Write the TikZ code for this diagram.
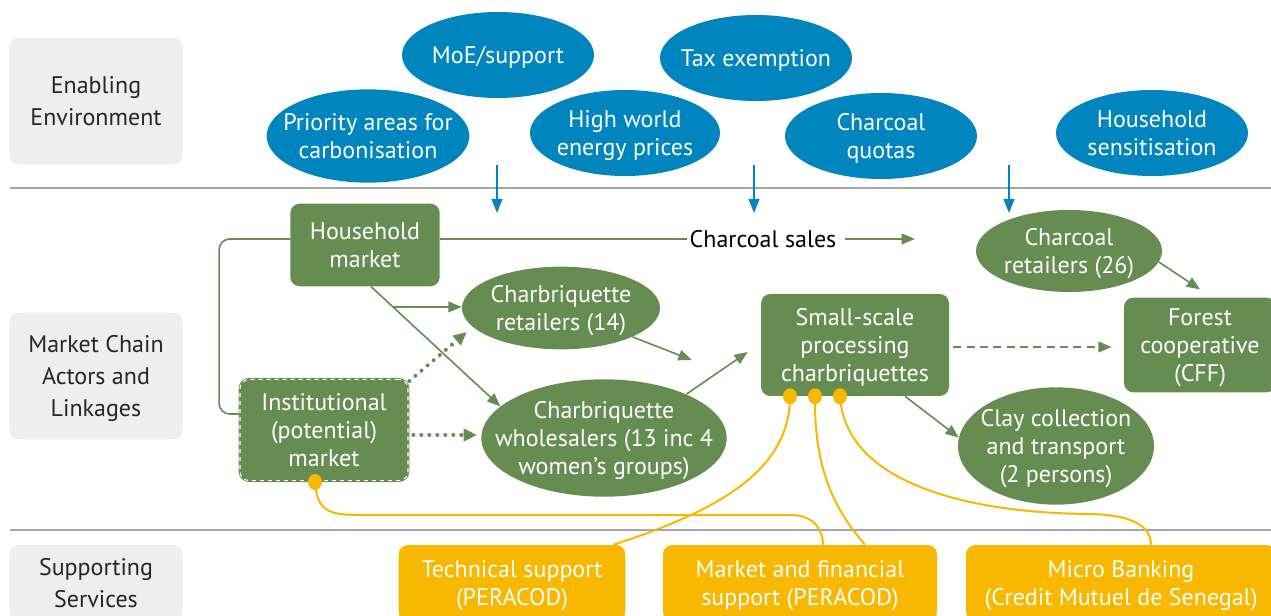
\documentclass[tikz,border=0pt]{standalone}
\usepackage{fontspec}
\setmainfont{PT Sans}
\usetikzlibrary{arrows.meta,positioning,calc,shapes.geometric}
\definecolor{envblue}{HTML}{0085BF}
\definecolor{chaingreen}{HTML}{678C52}
\definecolor{supyellow}{HTML}{F9B800}
\definecolor{panelgray}{HTML}{EEEEEE}
\definecolor{rulegray}{HTML}{A6A6A6}
\newcommand\lblfont{\fontsize{18}{21}\selectfont}

\begin{document}
\begin{tikzpicture}[x=0.75pt,y=-0.75pt,
  panel/.style={fill=panelgray,rounded corners=7pt,minimum width=130pt,minimum height=95pt,
    align=center,text=black!85,text depth=0pt,font=\fontsize{18}{24}\selectfont},
  envell/.style={ellipse,fill=envblue,inner sep=-30pt,minimum width=144pt,minimum height=64.5pt,
    align=center,text=white,text depth=0pt,font=\lblfont},
  actbox/.style={fill=chaingreen,rounded corners=7pt,inner sep=0pt,align=center,text=white,
    text depth=0pt,font=\lblfont},
  actell/.style={ellipse,fill=chaingreen,inner sep=-30pt,align=center,text=white,
    text depth=0pt,font=\lblfont},
  supbox/.style={fill=supyellow,rounded corners=7pt,inner sep=0pt,minimum height=57pt,
    align=center,text=white,text depth=0pt,font=\lblfont},
  ydot/.style={ellipse,fill=supyellow,inner sep=0pt,minimum width=10.5pt,minimum height=12pt},
  gline/.style={chaingreen,line width=1.2pt},
  garrow/.style={gline,-{Triangle[length=10pt,width=8pt]}},
  darrow/.style={chaingreen,line width=3pt,dash pattern=on 0pt off 6pt,line cap=round,
    -{Triangle[length=10pt,width=9pt]}},
  barrow/.style={envblue,line width=1.5pt,-{Triangle[length=10.5pt,width=8pt]}},
  yline/.style={supyellow,line width=1.5pt},
  rule/.style={rulegray,line width=2.2pt},
]
  \clip (0,0) rectangle (1271,616); % 画像の範囲
  \draw[rule] (10,188) -- (1271,188); % 上の区切り線
  \draw[rule] (10,530) -- (1271,530); % 下の区切り線

  \node[panel] (enab) at (96,101) {Enabling\\Environment}; % 左の見出し（上）
  \node[panel] (chain) at (96,376) {Market Chain\\Actors and\\Linkages}; % 左の見出し（中）
  \node[panel,minimum height=57pt] (serv) at (96,583) {Supporting\\Services}; % 左の見出し（下）

  \node[envell] (moe) at (498,55) {MoE/support};
  \node[envell,minimum width=152pt,minimum height=70pt] (prio) at (368,136) {Priority areas for\\carbonisation};
  \node[envell,minimum width=142.5pt] (price) at (625,133) {High world\\energy prices};
  \node[envell] (tax) at (756,58) {Tax exemption};
  \node[envell] (quota) at (881,136) {Charcoal\\quotas};
  \node[envell] (sens) at (1152,133) {Household\\sensitisation};
  \foreach \x in {497,754,1009}
    \draw[barrow] (\x,165) -- (\x,213); % 環境から市場への矢印

  \node[actbox,minimum width=112pt,minimum height=62pt] (hm) at (365,245) {Household\\market};
  \node[actbox,minimum width=126pt,minimum height=76pt,draw=chaingreen,line width=2pt,
    postaction={draw=white,line width=0.8pt,dash pattern=on 3pt off 3pt}] (inst) at (324,430)
    {Institutional\\(potential)\\market};
  \node[actell,minimum width=148.5pt,minimum height=62pt] (ret) at (561,308) {Charbriquette\\retailers (14)};
  \node[actell,minimum width=184pt,minimum height=88pt] (whole) at (604,438)
    {Charbriquette\\wholesalers (13 inc 4\\women’s groups)};
  \node[actbox,minimum width=141pt,minimum height=76.5pt] (proc) at (855,345)
    {Small-scale\\processing\\charbriquettes};
  \node[actell,minimum width=139.5pt,minimum height=61.5pt] (cret) at (1069,251) {Charcoal\\retailers (26)};
  \node[actbox,minimum width=114pt,minimum height=71pt] (forest) at (1200,345) {Forest\\cooperative\\(CFF)};
  \node[actell,minimum width=147pt,minimum height=88pt] (clay) at (1056,446)
    {Clay collection\\and transport\\(2 persons)};
  \node[font=\lblfont,inner sep=2pt] (sales) at (763,239) {Charcoal sales};
  \coordinate (salesend) at (915,239);

  \draw[gline,rounded corners=8pt] (hm.west |- sales) -- ++(-71,0) |- ([yshift=12pt]inst.west); % 左の枠線
  \draw[gline] (hm.east |- sales) -- (sales.west);
  \draw[garrow] (sales.east) ++(6,0) -- (salesend);
  \coordinate (hmout) at ($(hm.south)+(6,0)$);
  \draw[garrow] (hmout) -- (whole.163);
  \coordinate (br) at ($(hmout)!0.17!(whole.163)$);
  \draw[garrow] (br) -- (br -| ret.west);
  \draw[darrow] ($(inst.north east)+(0,3)$) -- ($(ret.west)+(5,24)$);
  \draw[darrow] ($(inst.east |- whole)+(4,-3)$) -- ($(whole.west)+(-4,-3)$);
  \draw[garrow] (ret.-22) -- ($(proc.west)+(-69,15)$);
  \draw[garrow] (whole.28) -- ($(proc.west)+(-13,7)$);
  \draw[gline,dash pattern=on 6pt off 4pt,-{Triangle[length=10pt,width=8pt]}]
    ($(proc.east)+(4,2)$) -- ($(forest.west)+(-12,2)$); % 点線の矢印
  \draw[garrow] (cret.-7) -- ($(forest.north)+(0,-8)$);
  \draw[garrow] ($(proc.south)+(50,0)$) -- (clay.175);

  \node[supbox,minimum width=170pt] (tech) at (512,583) {Technical support\\(PERACOD)};
  \node[supbox,minimum width=205.5pt] (mf) at (800,583) {Market and financial\\support (PERACOD)};
  \node[supbox,minimum width=232.5pt] (micro) at (1121,583) {Micro Banking\\(Credit Mutuel de Senegal)};
  \node[ydot] (idot) at ($(inst.south)+(-9,0)$) {};
  \node[ydot] (d1) at ($(proc.south)+(-65,0)$) {};
  \node[ydot] (d2) at ($(proc.south)+(-40,0)$) {};
  \node[ydot] (d3) at ($(proc.south)+(-15,0)$) {};

  \draw[yline] (idot.center) .. controls (317,512) and (330,515) .. (360,515) -- (790,515)
    .. controls (815,515) and ($(mf.north)+(23,-14)$) .. ($(mf.north)+(23,0)$); % 制度市場への支援
  \draw[yline] (d1.center) .. controls (790,470) and (720,510) .. ($(tech.north east)+(-12,0)$);
  \draw[yline] (d2.center) .. controls (814,470) and (835,510) .. ($(mf.north)+(65,0)$);
  \draw[yline] (d3.center) .. controls (845,480) and (960,513) .. (1090,514)
    .. controls (1140,515) and ($(micro.north)+(30,-14)$) .. ($(micro.north)+(30,0)$);
\end{tikzpicture}
\end{document}
